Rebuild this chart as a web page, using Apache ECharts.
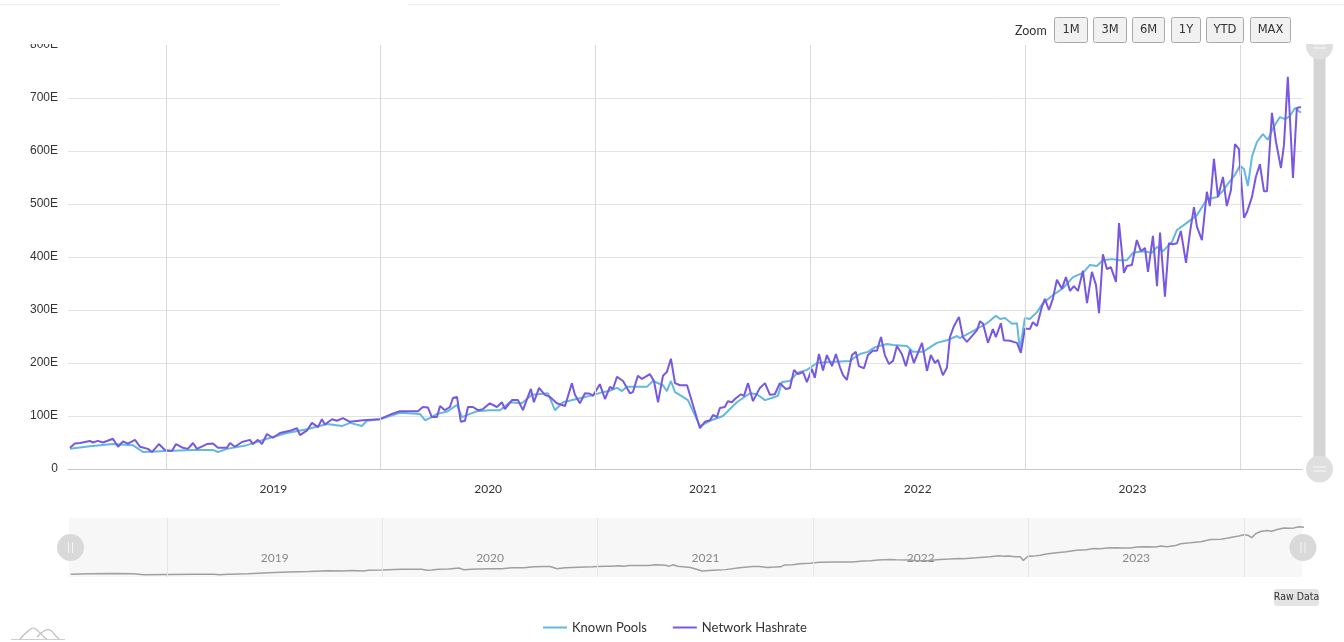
<!DOCTYPE html>
<html>
<head>
<meta charset="utf-8">
<title>Hashrate</title>
<script src="https://cdn.jsdelivr.net/npm/echarts@6/dist/echarts.min.js"></script>
<style>
    html, body { margin: 0; padding: 0; background: #fff; }
    #chart { width: 1344px; height: 642px; }
</style>
</head>
<body>
<div id="chart"></div>
<script>
// dates as decimal years, values in EH/s
const hashYears = [
    2018.553, 2018.576, 2018.600, 2018.646, 2018.660, 2018.683, 2018.707, 2018.753, 2018.777, 2018.800,
    2018.823, 2018.856, 2018.879, 2018.916, 2018.935, 2018.967, 2018.995, 2019.028, 2019.047, 2019.079,
    2019.102, 2019.126, 2019.144, 2019.191, 2019.219, 2019.242, 2019.284, 2019.298, 2019.321, 2019.354,
    2019.391, 2019.405, 2019.428, 2019.447, 2019.470, 2019.498, 2019.531, 2019.577, 2019.610, 2019.624,
    2019.657, 2019.680, 2019.708, 2019.726, 2019.740, 2019.773, 2019.796, 2019.824, 2019.857, 2019.917,
    2019.996, 2020.052, 2020.089, 2020.173, 2020.196, 2020.220, 2020.238, 2020.262, 2020.276, 2020.299,
    2020.322, 2020.336, 2020.355, 2020.373, 2020.392, 2020.406, 2020.429, 2020.453, 2020.476, 2020.508,
    2020.541, 2020.564, 2020.578, 2020.611, 2020.639, 2020.662, 2020.699, 2020.713, 2020.737, 2020.764,
    2020.788, 2020.820, 2020.858, 2020.867, 2020.890, 2020.904, 2020.927, 2020.951, 2020.974, 2020.988,
    2021.020, 2021.044, 2021.067, 2021.081, 2021.100, 2021.128, 2021.160, 2021.174, 2021.197, 2021.216,
    2021.253, 2021.272, 2021.291, 2021.314, 2021.332, 2021.351, 2021.370, 2021.393, 2021.426, 2021.486,
    2021.509, 2021.533, 2021.547, 2021.565, 2021.579, 2021.602, 2021.616, 2021.635, 2021.649, 2021.677,
    2021.691, 2021.710, 2021.733, 2021.765, 2021.789, 2021.812, 2021.835, 2021.858, 2021.886, 2021.905,
    2021.924, 2021.942, 2021.966, 2021.984, 2022.007, 2022.021, 2022.040, 2022.059, 2022.077, 2022.101,
    2022.119, 2022.138, 2022.152, 2022.170, 2022.194, 2022.212, 2022.226, 2022.250, 2022.268, 2022.291,
    2022.310, 2022.329, 2022.347, 2022.366, 2022.385, 2022.403, 2022.426, 2022.445, 2022.464, 2022.482,
    2022.520, 2022.543, 2022.561, 2022.580, 2022.594, 2022.617, 2022.636, 2022.650, 2022.669, 2022.692,
    2022.710, 2022.729, 2022.757, 2022.776, 2022.790, 2022.804, 2022.827, 2022.850, 2022.864, 2022.887,
    2022.901, 2022.929, 2022.962, 2022.980, 2022.999, 2023.022, 2023.036, 2023.055, 2023.078, 2023.092,
    2023.111, 2023.129, 2023.148, 2023.171, 2023.190, 2023.209, 2023.227, 2023.246, 2023.269, 2023.288,
    2023.311, 2023.330, 2023.344, 2023.362, 2023.381, 2023.399, 2023.423, 2023.437, 2023.460, 2023.474,
    2023.497, 2023.520, 2023.539, 2023.558, 2023.572, 2023.595, 2023.614, 2023.628, 2023.651, 2023.669,
    2023.688, 2023.707, 2023.725, 2023.749, 2023.767, 2023.786, 2023.800, 2023.823, 2023.846, 2023.860,
    2023.879, 2023.898, 2023.921, 2023.939, 2023.958, 2023.977, 2023.995, 2024.019, 2024.033, 2024.056,
    2024.074, 2024.093, 2024.112, 2024.126, 2024.149, 2024.168, 2024.191, 2024.205, 2024.223, 2024.247,
    2024.265, 2024.284
];
const hashValues = [
    40, 48, 49, 53, 50, 53, 50, 57, 42, 52,
    48, 55, 42, 38, 32, 47, 36, 34, 47, 40,
    38, 49, 38, 47, 48, 40, 40, 49, 42, 51,
    55, 47, 55, 47, 66, 59, 68, 72, 77, 64,
    73, 87, 79, 94, 84, 94, 91, 96, 89, 92,
    94, 104, 109, 109, 117, 116, 98, 98, 119, 111,
    117, 134, 136, 89, 91, 117, 117, 111, 113, 124,
    117, 126, 113, 130, 130, 111, 151, 126, 153, 140,
    136, 124, 119, 122, 162, 140, 124, 143, 142, 138,
    160, 132, 155, 151, 174, 166, 143, 145, 176, 170,
    179, 166, 126, 176, 183, 208, 162, 158, 158, 77,
    89, 92, 102, 98, 115, 117, 128, 126, 132, 141,
    138, 162, 128, 153, 162, 140, 141, 162, 151, 153,
    187, 179, 183, 164, 189, 172, 217, 186, 215, 194,
    217, 192, 177, 168, 215, 221, 194, 190, 215, 223,
    223, 249, 215, 198, 204, 232, 217, 194, 225, 200,
    238, 185, 215, 200, 206, 177, 191, 249, 270, 287,
    249, 240, 253, 262, 279, 274, 238, 264, 249, 275,
    243, 242, 238, 219, 265, 264, 277, 270, 306, 321,
    300, 321, 357, 340, 362, 336, 345, 336, 374, 313,
    372, 347, 294, 405, 377, 381, 353, 464, 370, 383,
    385, 432, 411, 417, 372, 440, 345, 446, 325, 426,
    424, 426, 449, 389, 445, 494, 457, 432, 523, 496,
    585, 513, 551, 496, 526, 613, 604, 474, 485, 513,
    551, 575, 524, 524, 672, 617, 568, 611, 740, 549,
    681, 683
];
const poolYears = [
    2018.553, 2018.646, 2018.753, 2018.846, 2018.893, 2019.005, 2019.126, 2019.219, 2019.242, 2019.284,
    2019.377, 2019.470, 2019.563, 2019.657, 2019.750, 2019.819, 2019.857, 2019.912, 2019.936, 2019.996,
    2020.057, 2020.089, 2020.182, 2020.206, 2020.229, 2020.262, 2020.308, 2020.355, 2020.378, 2020.415,
    2020.448, 2020.508, 2020.555, 2020.601, 2020.657, 2020.704, 2020.755, 2020.778, 2020.811, 2020.848,
    2020.913, 2020.974, 2021.034, 2021.062, 2021.100, 2021.123, 2021.146, 2021.207, 2021.239, 2021.267,
    2021.314, 2021.332, 2021.351, 2021.370, 2021.407, 2021.430, 2021.486, 2021.533, 2021.593, 2021.658,
    2021.719, 2021.751, 2021.789, 2021.821, 2021.849, 2021.868, 2021.905, 2021.938, 2021.984, 2022.031,
    2022.091, 2022.184, 2022.231, 2022.268, 2022.301, 2022.357, 2022.385, 2022.450, 2022.478, 2022.524,
    2022.589, 2022.636, 2022.683, 2022.696, 2022.757, 2022.822, 2022.864, 2022.883, 2022.906, 2022.939,
    2022.962, 2022.976, 2022.999, 2023.022, 2023.055, 2023.083, 2023.129, 2023.176, 2023.223, 2023.269,
    2023.302, 2023.334, 2023.362, 2023.404, 2023.441, 2023.474, 2023.502, 2023.548, 2023.590, 2023.614,
    2023.642, 2023.683, 2023.707, 2023.751, 2023.800, 2023.846, 2023.893, 2023.921, 2023.944, 2023.977,
    2024.000, 2024.019, 2024.037, 2024.056, 2024.079, 2024.107, 2024.130, 2024.154, 2024.186, 2024.210,
    2024.233, 2024.256, 2024.284
];
const poolValues = [
    38, 43, 47, 45, 32, 34, 36, 36, 32, 38,
    45, 57, 68, 75, 85, 81, 87, 81, 91, 94,
    102, 106, 104, 92, 96, 104, 108, 121, 98, 104,
    109, 111, 111, 126, 124, 140, 142, 143, 111, 126,
    132, 138, 145, 147, 153, 147, 155, 155, 155, 166,
    158, 147, 166, 145, 136, 130, 81, 91, 100, 126,
    143, 141, 130, 134, 138, 164, 166, 181, 187, 200,
    202, 204, 217, 221, 230, 236, 234, 232, 221, 221,
    238, 243, 251, 247, 260, 275, 289, 283, 285, 274,
    275, 225, 285, 283, 296, 313, 328, 341, 362, 370,
    385, 383, 394, 396, 394, 394, 408, 411, 408, 419,
    411, 428, 451, 464, 479, 509, 513, 525, 538, 555,
    572, 566, 534, 589, 617, 632, 621, 643, 664, 660,
    666, 681, 672
];
const seriesNames = ['Known Pools', 'Network Hashrate'];
const yearLines = [2019, 2020, 2021, 2022, 2023, 2024];
const yearLabels = [2019.5, 2020.5, 2021.5, 2022.5, 2023.5];
const zoomButtons = ['1M', '3M', '6M', '1Y', 'YTD', 'MAX'];

const poolData = poolYears.map((y, i) => [y, poolValues[i]]);
const hashData = hashYears.map((y, i) => [y, hashValues[i]]);

const chart = echarts.init(document.getElementById('chart'));

const graphics = [];
// tab strip along the top
graphics.push({type: 'line', shape: {x1: 0, y1: 4.5, x2: 280, y2: 4.5}, style: {stroke: '#ececec', lineWidth: 1}});
graphics.push({type: 'line', shape: {x1: 408, y1: 4.5, x2: 1344, y2: 4.5}, style: {stroke: '#ececec', lineWidth: 1}});
// plot area is clipped at the top, cut the 800E label and the scroll handle
graphics.push({type: 'rect', shape: {x: 0, y: 6, width: 1344, height: 38}, style: {fill: '#fff'}, z: 50});

// range selector
graphics.push({
    type: 'text', x: 1015, y: 31, z: 100,
    style: {text: 'Zoom', fontSize: 12.5, fontFamily: 'Lato', fill: '#333', verticalAlign: 'middle'}
});
const btnX = [1054, 1093, 1132, 1171, 1206, 1250];
const btnW = [33, 33, 32, 29, 37, 40];
zoomButtons.forEach((label, i) => {
    graphics.push({
        type: 'rect', z: 100,
        shape: {x: btnX[i] + 0.5, y: 17.5, width: btnW[i], height: 25, r: 2},
        style: {fill: '#f1f1f1', stroke: '#a9a9a9', lineWidth: 1}
    });
    graphics.push({
        type: 'text', z: 101, x: btnX[i] + btnW[i] / 2 + 0.5, y: 30,
        style: {text: label, fontSize: 11.5, fontFamily: 'DejaVu Sans', fill: '#333', align: 'center', verticalAlign: 'middle'}
    });
});

// vertical scrollbar
graphics.push({type: 'rect', shape: {x: 1313.5, y: 50, width: 12, height: 419}, style: {fill: '#d5d5d5'}, z: 40});
[46, 469].forEach(cy => {
    graphics.push({type: 'circle', shape: {cx: 1319.5, cy: cy, r: 13.5}, style: {fill: '#dfdfdf'}, z: 41});
    graphics.push({type: 'line', shape: {x1: 1313, y1: cy - 2, x2: 1326, y2: cy - 2}, style: {stroke: '#fafafa', lineWidth: 1}, z: 42});
    graphics.push({type: 'line', shape: {x1: 1313, y1: cy + 2, x2: 1326, y2: cy + 2}, style: {stroke: '#fafafa', lineWidth: 1}, z: 42});
});

// navigator handles
[70.5, 1303].forEach(cx => {
    graphics.push({type: 'circle', shape: {cx: cx, cy: 547.5, r: 13.5}, style: {fill: '#d9d9d9'}, z: 40});
    graphics.push({type: 'line', shape: {x1: cx - 2, y1: 542, x2: cx - 2, y2: 553}, style: {stroke: '#f4f4f4', lineWidth: 1}, z: 41});
    graphics.push({type: 'line', shape: {x1: cx + 2, y1: 542, x2: cx + 2, y2: 553}, style: {stroke: '#f4f4f4', lineWidth: 1}, z: 41});
});

// raw data button
graphics.push({type: 'rect', shape: {x: 1274, y: 589, width: 45, height: 17, r: 3}, style: {fill: '#e4e4e4'}, z: 40});
graphics.push({
    type: 'text', x: 1296.5, y: 597.5, z: 41,
    style: {text: 'Raw Data', fontSize: 10.5, fontFamily: "'Liberation Sans Narrow', 'DejaVu Sans Condensed', sans-serif", fill: '#333', align: 'center', verticalAlign: 'middle'}
});

// small logo
graphics.push({type: 'line', shape: {x1: 11, y1: 639.5, x2: 65, y2: 639.5}, style: {stroke: '#cfcfcf', lineWidth: 1}});
graphics.push({type: 'polyline', shape: {points: [[20, 639], [27, 632], [33, 628], [38, 631], [44, 637], [47, 639]], smooth: 0.4}, style: {stroke: '#bdbdbd', lineWidth: 1.2, fill: null}});
graphics.push({type: 'polyline', shape: {points: [[37, 637], [44, 631], [50, 630], [55, 635], [59, 639]], smooth: 0.4}, style: {stroke: '#bdbdbd', lineWidth: 1.2, fill: null}});

const option = {
    animation: false,
    backgroundColor: '#fff',
    grid: [
        {left: 68, right: 42, top: 45, height: 424},
        {left: 69, right: 42, top: 518, height: 59, show: true, backgroundColor: '#f7f7f7', borderWidth: 0}
    ],
    legend: {
        data: seriesNames,
        top: 616,
        left: 538,
        icon: 'rect',
        itemWidth: 24,
        itemHeight: 2,
        itemGap: 26,
        textStyle: {fontSize: 13, fontFamily: 'Lato', color: '#333'}
    },
    xAxis: [
        {
            type: 'value', gridIndex: 0,
            min: 2018.544, max: 2024.289,
            axisLine: {lineStyle: {color: '#c8c8c8'}},
            axisTick: {show: false},
            splitLine: {show: false},
            axisLabel: {
                customValues: yearLabels,
                formatter: v => String(Math.floor(v)),
                fontSize: 12, fontFamily: 'Lato', color: '#333', margin: 14
            }
        },
        {
            type: 'value', gridIndex: 1,
            min: 2018.545, max: 2024.27,
            axisLine: {show: false},
            axisTick: {show: false},
            splitLine: {show: false},
            axisLabel: {
                inside: true,
                customValues: yearLabels,
                formatter: v => String(Math.floor(v)),
                fontSize: 12, fontFamily: 'Lato', color: '#888', margin: 13
            }
        }
    ],
    yAxis: [
        {
            type: 'value', gridIndex: 0,
            min: 0, max: 800, interval: 100,
            axisLine: {show: false},
            axisTick: {show: false},
            splitLine: {showMaxLine: false, lineStyle: {color: '#e3e3e3'}},
            axisLabel: {
                formatter: v => v === 0 ? '0' : v + 'E',
                fontSize: 12, fontFamily: 'Liberation Sans', color: '#333', margin: 10
            }
        },
        {type: 'value', gridIndex: 1, min: 0, max: 800, show: false}
    ],
    series: [
        {
            name: seriesNames[0],
            type: 'line',
            data: poolData,
            showSymbol: false,
            color: '#63b8e0',
            lineStyle: {width: 2},
            z: 3,
            markLine: {
                silent: true,
                symbol: 'none',
                label: {show: false},
                lineStyle: {color: '#d9d9d9', width: 1, type: 'solid'},
                data: yearLines.map(y => ({xAxis: y}))
            }
        },
        {
            name: seriesNames[1],
            type: 'line',
            data: hashData,
            showSymbol: false,
            color: '#7858e0',
            lineStyle: {width: 2},
            z: 4
        },
        {
            name: 'navigator',
            type: 'line',
            xAxisIndex: 1,
            yAxisIndex: 1,
            data: poolData,
            showSymbol: false,
            silent: true,
            color: '#a0a0a0',
            lineStyle: {width: 1.5},
            markLine: {
                silent: true,
                symbol: 'none',
                label: {show: false},
                lineStyle: {color: '#e6e6e6', width: 1, type: 'solid'},
                data: yearLines.map(y => ({xAxis: y}))
            }
        }
    ],
    graphic: graphics
};
chart.setOption(option);
window.addEventListener('resize', () => chart.resize());
</script>
</body>
</html>
